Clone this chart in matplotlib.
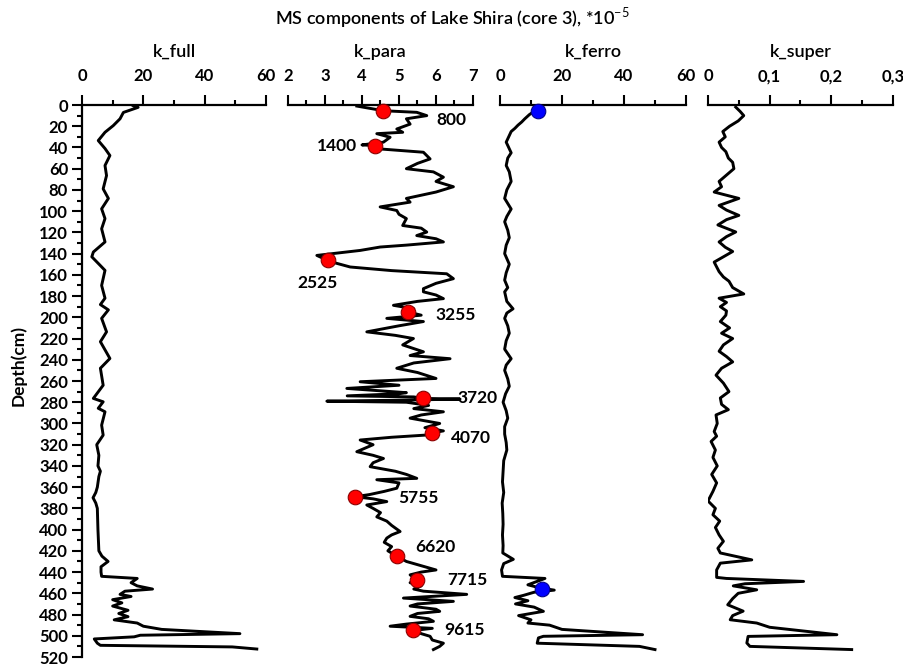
import numpy as np
import matplotlib
matplotlib.use('Agg')
import matplotlib.pyplot as plt
from matplotlib.ticker import MultipleLocator, FixedLocator

plt.rcParams['font.family'] = ['Lato', 'DejaVu Sans']
plt.rcParams['mathtext.fontset'] = 'custom'
plt.rcParams['mathtext.rm'] = 'Lato'

# depth (cm) and values
full_depth = [0.6, 2.2, 7, 13, 19.4, 25.7, 33.5, 41, 47.6, 57, 66.5, 79, 88, 97.8, 107, 116.6, 129, 138.5,
              143, 151, 155.8, 170, 182, 188, 193, 201, 213.7, 223, 238.8, 248, 264, 276.4, 279.6, 285.7,
              289, 301.6, 311, 320, 330, 340, 345, 350, 360, 365, 370, 375, 380, 400, 420, 425, 430, 435,
              440, 444, 446, 450, 453, 456, 458, 461, 463, 466, 469, 472, 476, 479, 482, 485, 488, 491,
              494, 498, 499.5, 501, 503, 507, 509, 510.5, 512.5]
full_val = [16.7, 18.3, 13.5, 12.4, 10.2, 7.5, 5.3, 7.5, 9.1, 7.5, 8.0, 6.9, 8.6, 6.4, 7.5, 6.4, 7.5, 3.7,
            3.2, 5.9, 7.5, 6.4, 7.5, 6.0, 8.6, 6.4, 8.0, 6.0, 9.1, 6.0, 6.9, 3.7, 6.9, 5.3,
            7.5, 6.4, 6.9, 4.8, 5.5, 5.2, 6.0, 5.5, 5.0, 4.5, 3.6, 4.5, 5.0, 5.2, 5.5, 6.5, 8.5, 6.2,
            6.2, 6.4, 18, 16, 18, 23, 14, 12.4, 16, 10, 13, 10, 15, 12, 15, 10.5, 18, 20,
            26, 51.5, 19, 17, 4, 5, 6, 49, 57]

para_depth = [1, 5.4, 6.9, 10, 13, 18, 22.6, 25.7, 27, 30.4, 35, 37.6, 38.2, 41.4, 44.5, 50.8, 55, 60, 63,
              68, 72, 77, 82, 88, 91.5, 96, 99.4, 103, 107, 113.5, 116, 119.7, 123, 126, 129, 132, 133.8,
              137, 141.7, 146.4, 149, 152.6, 156, 159, 163.6, 168, 173, 176, 179, 182.4, 185, 188.7, 192,
              195, 198, 201, 204, 208, 213.7, 217, 220, 226, 232.5, 236, 239, 243, 248, 252, 257.6, 260.7,
              264, 267, 271, 272, 274, 275, 276.4, 277, 278, 279, 280, 283, 286, 289, 292, 295, 300, 304,
              307, 309, 311, 313, 315.6, 320, 323, 326.6, 330, 333, 337, 340.7, 345, 348, 351.7, 353, 356,
              361, 364, 367, 369, 371, 373.6, 376.8, 380, 384, 388, 392, 396, 401.8, 405, 408, 412, 416,
              420, 425, 430, 434, 438, 440, 442.6, 447, 450, 453, 456, 458, 461, 464.5, 467.6, 470, 472,
              475, 477, 479, 481.7, 484, 486.4, 489, 491, 493, 495, 498, 500.5, 504, 507, 510, 513]
para_val = [3.86, 4.58, 5.48, 5.75, 5.2, 5.3, 4.94, 5.1, 4.4, 4.76, 4.58, 4.0, 4.35, 4.49, 5.66, 5.84, 5.5, 5.2, 5.93,
            6.2, 6.0, 6.47, 6.0, 5.2, 5.3, 4.49, 4.94, 5.0, 5.2, 5.1, 5.6, 5.75, 5.48, 6.0, 6.2, 5.2, 4.49,
            3.95, 2.78, 3.07, 3.3, 3.68, 4.8, 6.29, 6.47, 6.0, 5.66, 5.66, 6.0, 6.2, 5.5, 4.85, 5.4,
            5.25, 5.6, 4.67, 5.66, 5.0, 4.13, 4.9, 5.39, 5.1, 5.66, 5.3, 6.38, 5.4, 4.94, 5.5, 6.0, 3.95,
            5.0, 3.59, 5.2, 5.0, 3.6, 5.4, 5.66, 6.65, 5.2, 3.05, 5.2, 5.8, 5.4, 6.2, 5.6, 5.3, 6.1, 5.7,
            6.2, 5.88, 5.7, 4.8, 3.95, 4.3, 4.1, 3.86, 4.3, 4.58, 4.3, 4.22, 4.9, 5.2, 5.48, 4.4, 5.0,
            4.94, 4.6, 4.2, 3.81, 4.3, 4.67, 4.13, 4.3, 4.5, 4.4, 4.67, 4.8, 5.03, 4.8, 4.67, 4.6, 4.8,
            4.7, 4.94, 5.2, 5.6, 6.0, 5.6, 5.3, 5.48, 5.3, 5.6, 5.4, 5.66, 6.83, 5.12, 6.47, 5.5, 5.3,
            6.0, 6.1, 5.5, 5.3, 5.8, 5.93, 5.2, 4.76, 5.9, 5.39, 5.6, 5.84, 5.9, 6.2, 6.1, 5.93]

ferro_depth = [3, 6, 9, 13, 16, 19, 22, 25, 30, 35, 40, 45, 50, 57, 63, 72, 80, 88, 98, 105, 110, 118, 125,
               132, 140, 150, 158, 165, 172, 176, 185, 192, 196, 201, 208, 215, 222, 230, 239, 245, 250,
               258, 265, 272, 280, 288, 295, 303, 310, 318, 325, 335, 345, 355, 365, 375, 385, 395, 405,
               415, 422, 428, 432, 438, 444, 446, 452, 455, 457, 459, 462, 464, 467, 470, 473, 477, 481,
               485, 488, 490, 494, 499, 500.5, 502, 507, 510, 513]
ferro_val = [12, 11, 9.5, 8, 7, 5.8, 4.8, 3.6, 2.8, 2, 2.8, 3.6, 2.5, 2, 3, 3.6, 2.2, 1.5, 3.6, 2.2, 1.5, 2.5, 3,
             2, 1.5, 3, 2, 1.5, 2.5, 1.5, 2.2, 4.2, 2.2, 1.5, 2.5, 3, 2, 1.5, 3.6, 2, 1.5,
             2.5, 3, 1.8, 1, 2, 2.5, 1.5, 1.5, 2, 2.2, 1.2, 1, 0.8, 1.2, 0.7, 0.9, 1, 0.8,
             1, 0.9, 4.3, 1.2, 0.5, 0.8, 14.5, 9, 13, 17.5, 11, 7.5, 4.8, 9, 5, 11, 14, 6,
             10, 9, 16, 20, 46, 14, 12.4, 12, 45, 50]

super_depth = [2, 6, 10, 15, 20, 25, 30, 35, 40, 44, 50, 54, 60, 66, 72, 77, 82, 88, 94.6, 99, 104, 108, 113,
               119.6, 124, 129, 134, 138, 143, 148, 157, 162, 166, 172, 178, 182, 186, 190, 194, 198, 204,
               210, 215, 220, 226, 232, 237, 242, 248, 254.5, 262, 270, 276, 282, 287, 292, 300, 307.6, 312,
               317, 325, 332, 340, 348, 356, 364, 373, 380, 386, 392, 398, 405, 411, 417.6, 422, 428.5,
               431.6, 438, 445, 446, 448.8, 451, 453, 456.7, 460, 465, 470.8, 476.8, 481, 484.9, 488, 492,
               499, 500.6, 506.8, 510, 513]
super_val = [0.045, 0.052, 0.058, 0.049, 0.035, 0.024, 0.028, 0.018, 0.022, 0.029, 0.033, 0.04, 0.042, 0.03,
             0.018, 0.022, 0.01, 0.05, 0.018, 0.03, 0.05, 0.03, 0.016, 0.045, 0.03, 0.018, 0.028, 0.04, 0.025,
             0.01, 0.018, 0.025, 0.034, 0.04, 0.058, 0.018, 0.03, 0.02, 0.03, 0.029, 0.02, 0.035, 0.022, 0.04,
             0.025, 0.018, 0.03, 0.04, 0.022, 0.013, 0.025, 0.034, 0.02, 0.022, 0.033, 0.013, 0.015, 0.01,
             0.014, 0.005, 0.012, 0.008, 0.015, 0.006, 0.014, 0.008, 0.0, 0.012, 0.008, 0.019, 0.012, 0.018,
             0.025, 0.016, 0.02, 0.071, 0.02, 0.014, 0.014, 0.03, 0.155, 0.06, 0.041, 0.079, 0.049, 0.04,
             0.032, 0.057, 0.04, 0.036, 0.079, 0.1, 0.209, 0.065, 0.063, 0.068, 0.233]

# dated points (age labels) on k_para, and marks on k_ferro
age_labels = ['800', '1400', '2525', '3255', '3720', '4070', '5755', '6620', '7715', '9615']
age_depth = [5.5, 38.2, 146.4, 195, 276.4, 309, 369, 425, 447, 494.5]
age_val = [4.58, 4.35, 3.07, 5.25, 5.66, 5.88, 3.81, 4.94, 5.48, 5.39]
age_offset = [(38, -6.5), (-13, 0), (-7, -16.5), (19.5, -2), (24.5, 0.5), (13.7, -3.6), (31, -0.7),
              (13, 6.5), (21.6, 0), (22, 0)]
age_ha = ['left', 'right', 'center', 'left', 'left', 'left', 'left', 'left', 'left', 'left']
ferro_mark_depth = [5.4, 455.8]
ferro_mark_val = [12.3, 13.4]

panel_titles = ['k_full', 'k_para', 'k_ferro', 'k_super']
super_ticks = [0, 0.1, 0.2, 0.3]
super_ticklabels = ['0', '0,1', '0,2', '0,3']

fig = plt.figure(figsize=(9.04, 6.66), dpi=100)
W, H = 904, 666
top, bot = 105, 657
lefts = [82, 288, 500, 708]
rights = [266, 473, 686, 893]
axes = []
for l, r in zip(lefts, rights):
    ax = fig.add_axes([l / W, 1 - bot / H, (r - l) / W, (bot - top) / H])
    axes.append(ax)

series = [(full_depth, full_val), (para_depth, para_val), (ferro_depth, ferro_val), (super_depth, super_val)]
xlims = [(0, 60), (2, 7), (0, 60), (0, 0.3)]
majors = [20, 1, 20, 0.1]
minors = [10, 0.5, 10, 0.05]

for i, ax in enumerate(axes):
    d, v = series[i]
    ax.plot(v, d, c='k', lw=2.1, solid_joinstyle='round', zorder=2)
    ax.set_xlim(*xlims[i])
    ax.set_ylim(520, 0)
    ax.xaxis.tick_top()
    ax.xaxis.set_major_locator(MultipleLocator(majors[i]))
    ax.xaxis.set_minor_locator(MultipleLocator(minors[i]))
    ax.spines['bottom'].set_visible(False)
    ax.spines['right'].set_visible(False)
    ax.spines['top'].set_linewidth(1.6)
    ax.spines['left'].set_linewidth(1.6)
    ax.tick_params(axis='x', which='major', direction='out', length=7, width=1.5, pad=8,
                   labelsize=12)
    ax.tick_params(axis='x', which='minor', direction='out', length=3.5, width=1.5)
    for t in ax.get_xticklabels():
        t.set_fontweight('bold')
    ax.text(0.5, 1 + (top - 52) / (bot - top), panel_titles[i], transform=ax.transAxes,
            ha='center', va='center', fontsize=13, fontweight='semibold')
    if i == 0:
        ax.yaxis.set_major_locator(MultipleLocator(20))
        ax.yaxis.set_minor_locator(MultipleLocator(10))
        ax.tick_params(axis='y', which='major', direction='out', length=7, width=1.5, pad=3,
                       labelsize=12)
        ax.tick_params(axis='y', which='minor', direction='out', length=3.5, width=1.5)
        for t in ax.get_yticklabels():
            t.set_fontweight('bold')
    else:
        ax.spines['left'].set_visible(False)
        ax.set_yticks([])
        ax.tick_params(axis='y', which='both', left=False, labelleft=False)

axes[3].xaxis.set_major_locator(FixedLocator(super_ticks))
axes[3].set_xticklabels(super_ticklabels, fontweight='bold')

ax = axes[1]
ax.plot(age_val, age_depth, 'o', ms=10.5, mfc='red', mec='#8b0000', mew=0.8, zorder=3, clip_on=False)
for lab, dv, vv, off, ha in zip(age_labels, age_depth, age_val, age_offset, age_ha):
    ax.annotate(lab, (vv, dv), xytext=off, textcoords='offset points', ha=ha, va='center',
                fontsize=12.5, fontweight='bold')

axes[2].plot(ferro_mark_val, ferro_mark_depth, 'o', ms=10.5, mfc='blue', mec='#00008b', mew=0.8,
             zorder=3, clip_on=False)

fig.text(0.5, 1 - 18 / H, 'MS components of Lake Shira (core 3), *10$^{-5}$', ha='center', va='center',
         fontsize=13, fontweight='semibold')
fig.text(18 / W, 1 - 365 / H, 'Depth(cm)', rotation=90, ha='center', va='center', fontsize=12.5,
         fontweight='bold')

fig.savefig('out.png', dpi=100)
